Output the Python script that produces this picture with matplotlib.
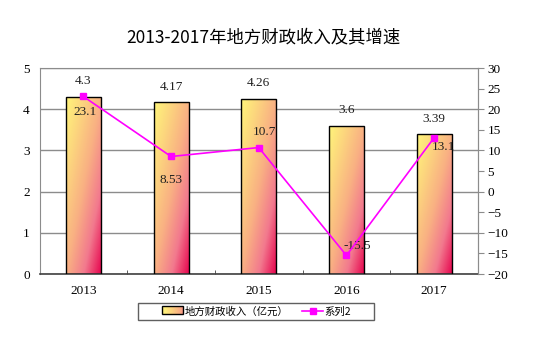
import numpy as np
import matplotlib.pyplot as plt
from matplotlib.colors import LinearSegmentedColormap
from matplotlib.patches import Rectangle
from matplotlib.lines import Line2D
from matplotlib.legend_handler import HandlerBase

plt.rcParams['font.family'] = ['Liberation Serif', 'Noto Sans CJK SC']

# ---- data ----
years = ["2013", "2014", "2015", "2016", "2017"]
revenue = [4.3, 4.17, 4.26, 3.6, 3.39]          # 地方财政收入（亿元）
growth = [23.1, 8.53, 10.7, -15.5, 13.1]        # 系列2
revenue_labels = ["4.3", "4.17", "4.26", "3.6", "3.39"]
growth_labels = ["23.1", "8.53", "10.7", "-15.5", "13.1"]
# label offsets (points) for the growth line labels
growth_offsets = [(1, -11), (0, -17), (4, 11), (8, 7), (7, -7)]

grad = LinearSegmentedColormap.from_list(
    "bar", [(0.0, "#FFF57A"), (0.25, "#FCD47E"), (0.5, "#F9B083"),
            (0.75, "#F2798E"), (1.0, "#E6004C")])
line_color = "#FF00FF"
grid_gray = "#8C8C8C"

fig = plt.figure(figsize=(5.51, 3.42), dpi=100)
ax = fig.add_axes([0.0717, 0.1988, 0.7958, 0.6022])
ax2 = ax.twinx()

x = np.arange(len(years))
bars = ax.bar(x, revenue, width=0.4, facecolor="none", edgecolor="black",
              linewidth=1.0, zorder=3)

# diagonal gradient (top-left yellow -> bottom-right crimson) in each bar
gx, gy = np.meshgrid(np.linspace(0, 1, 60), np.linspace(0, 1, 200))
g = 0.5 * gx + 0.5 * gy
for b in bars:
    x0, w, h = b.get_x(), b.get_width(), b.get_height()
    im = ax.imshow(g, cmap=grad, extent=[x0, x0 + w, 0, h], origin="upper",
                   aspect="auto", zorder=2, vmin=0, vmax=1)
    im.set_clip_path(b)

for xi, v, lab in zip(x, revenue, revenue_labels):
    ax.annotate(lab, (xi, v), xytext=(0, 7), textcoords="offset points",
                ha="center", va="bottom", fontsize=9.5, color="#202020")

ax.set_xlim(-0.5, len(years) - 0.5)
ax.set_ylim(0, 5)
ax.set_yticks(range(0, 6))
ax.set_xticks(x)
ax.set_xticklabels(years, fontsize=9.5)
ax.set_xticks(np.arange(-0.5, len(years), 1), minor=True)
ax.tick_params(axis="x", which="major", length=0, pad=8)
ax.tick_params(axis="x", which="minor", length=3, direction="in", color="#404040")
ax.tick_params(axis="y", length=0, labelsize=9.5, pad=7)
ax.yaxis.grid(True, color=grid_gray, linewidth=1.0)
ax.set_axisbelow(True)
for s in ["left", "top", "right"]:
    ax.spines[s].set_color(grid_gray)
ax.spines["bottom"].set_color("#404040")
ax.spines["bottom"].set_linewidth(1.2)

ax2.plot(x, growth, color=line_color, linewidth=1.2, marker="s",
         markersize=5, zorder=5)
for xi, v, lab, off in zip(x, growth, growth_labels, growth_offsets):
    ax2.annotate(lab, (xi, v), xytext=off, textcoords="offset points",
                 ha="center", va="center", fontsize=9.5, color="#202020")
ax2.set_ylim(-20, 30)
ax2.set_yticks(range(-20, 31, 5))
ax2.tick_params(axis="y", length=4, color=grid_gray, labelsize=9.5, pad=3)
for s in ["left", "top", "right", "bottom"]:
    ax2.spines[s].set_visible(False)
ax2.spines["right"].set_visible(True)
ax2.spines["right"].set_color(grid_gray)

fig.text(0.478, 0.892, "2013-2017年地方财政收入及其增速", ha="center", va="center",
         fontsize=12.5, family=["Noto Sans CJK SC", "DejaVu Sans"])


class GradientHandler(HandlerBase):
    def create_artists(self, legend, orig, xd, yd, width, height, fontsize, trans):
        n = 20
        arts = []
        for i in range(n):
            arts.append(Rectangle((xd + width * i / n, yd), width / n, height,
                                  facecolor=grad(0.6 * i / (n - 1)), edgecolor="none",
                                  transform=trans))
        arts.append(Rectangle((xd, yd), width, height, facecolor="none",
                              edgecolor="black", linewidth=1.0, transform=trans))
        return arts


bar_handle = Rectangle((0, 0), 1, 1)
line_handle = Line2D([], [], color=line_color, marker="s", markersize=5, linewidth=1.2)
leg = fig.legend([bar_handle, line_handle], ["地方财政收入（亿元）", "系列2"],
                 handler_map={bar_handle: GradientHandler()},
                 loc="center", bbox_to_anchor=(0.466, 0.089), ncol=2,
                 frameon=False, handlelength=2.0, handleheight=0.8,
                 columnspacing=1.3, borderpad=0.2, handletextpad=0.15,
                 prop={"family": ["Noto Sans CJK SC", "DejaVu Sans"], "size": 7.5})
# legend box drawn separately (wider padding than matplotlib's frame)
fig.patches.append(Rectangle((0.2505, 0.0643), 0.4283, 0.0497,
                             transform=fig.transFigure, facecolor="none",
                             edgecolor="#606060", linewidth=1.0))

fig.savefig("out.png", dpi=100)
